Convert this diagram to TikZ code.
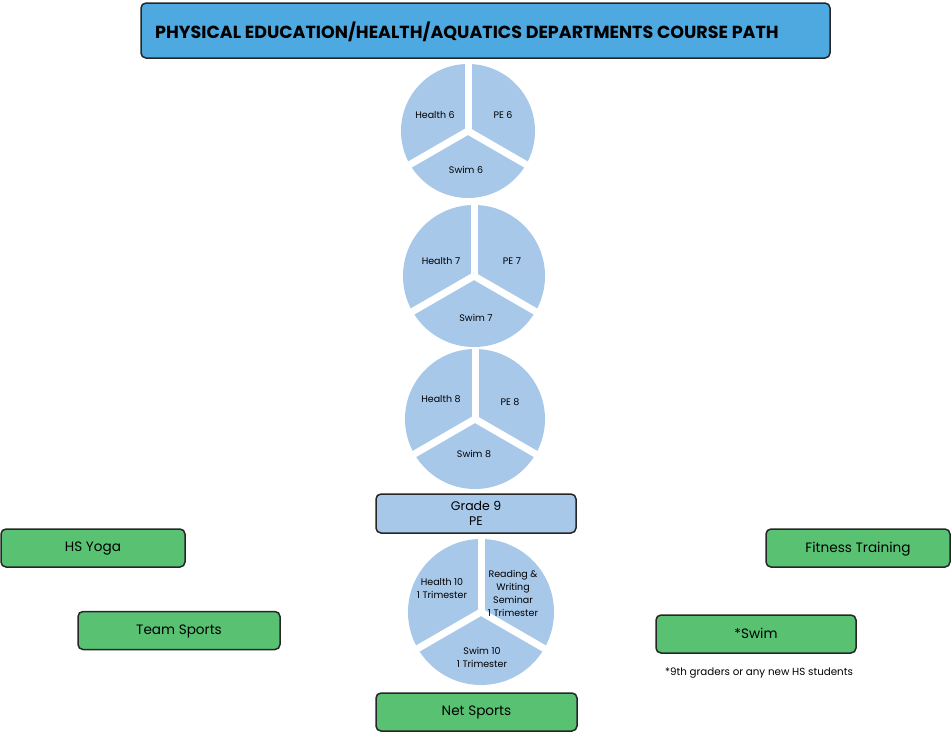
\documentclass[tikz,border=0pt]{standalone}
\usepackage{fontspec}
\setmainfont{Poppins}
\definecolor{titleblue}{HTML}{4EA9E0}
\definecolor{pieblue}{HTML}{A8C8E9}
\definecolor{boxgreen}{HTML}{58C272}
\begin{document}
\begin{tikzpicture}[x=1pt,y=-1pt,
  roundbox/.style={draw=black!85,line width=1.5pt,rounded corners=5pt,inner sep=0pt},
  greenbox/.style={roundbox,fill=boxgreen,minimum width=#1,minimum height=38pt,text depth=2pt,font=\fontsize{13.6}{15}\selectfont},
  greenbox/.default=184pt,
  pie/.style={circle,fill=pieblue,inner sep=0pt,minimum size=#1},
  gap/.style={white,line width=7pt},
  plabel/.style={font=\fontsize{9.5}{13}\selectfont,align=center,inner sep=0pt}
]
\useasboundingbox (0,0) rectangle (951,734);

% title
\node[roundbox,fill=titleblue,minimum width=689pt,minimum height=55pt] (title) at (485.5,30.5) {};
\node[anchor=west,inner sep=0pt,font=\fontsize{17.5}{20}\bfseries\selectfont] (titletext) at (155,32) {PHYSICAL EDUCATION/HEALTH/AQUATICS DEPARTMENTS COURSE PATH};

% pie 1
\node[pie=134pt] (p1) at (468,131) {};
\draw[gap] (p1.center) -- (p1.90);
\draw[gap] (p1.center) -- (p1.210);
\draw[gap] (p1.center) -- (p1.330);
\node[plabel] (h6) at (435,115) {Health 6};
\node[plabel] (pe6) at (503,115) {PE 6};
\node[plabel] (s6) at (466,170) {Swim 6};

% pie 2
\node[pie=142pt] (p2) at (474,276) {};
\draw[gap] (p2.center) -- (p2.90);
\draw[gap] (p2.center) -- (p2.210);
\draw[gap] (p2.center) -- (p2.330);
\node[plabel] (h7) at (441,261) {Health 7};
\node[plabel] (pe7) at (512,261) {PE 7};
\node[plabel] (s7) at (476,318) {Swim 7};

% pie 3
\node[pie=140pt] (p3) at (475,419) {};
\draw[gap] (p3.center) -- (p3.90);
\draw[gap] (p3.center) -- (p3.210);
\draw[gap] (p3.center) -- (p3.330);
\node[plabel] (h8) at (441,399) {Health 8};
\node[plabel] (pe8) at (510,402) {PE 8};
\node[plabel] (s8) at (474,454) {Swim 8};

% grade 9
\node[roundbox,fill=pieblue,minimum width=200pt,minimum height=39pt,align=center,font=\fontsize{12.5}{15}\selectfont] (g9) at (476,513.5) {Grade 9\\PE};

% pie 4
\node[pie=146pt] (p4) at (481,612) {};
\draw[gap] (p4.center) -- (p4.90);
\draw[gap] (p4.center) -- (p4.210);
\draw[gap] (p4.center) -- (p4.330);
\node[plabel] (h10) at (442,589) {Health 10\\1 Trimester};
\node[plabel] (rw) at (513,593) {Reading \&\\Writing\\Seminar\\1 Trimester};
\node[plabel] (s10) at (482,657) {Swim 10\\1 Trimester};

% electives
\node[greenbox] (yoga) at (93,548) {HS Yoga};
\node[greenbox=202pt] (team) at (179,630.5) {Team Sports};
\node[greenbox] (fit) at (858,548) {Fitness Training};
\node[greenbox=200pt] (swim) at (756,634) {*Swim};
\node[greenbox=201pt] (net) at (476.5,712) {Net Sports};
\node[inner sep=0pt,font=\fontsize{10.3}{12}\selectfont] (note) at (759,673.5) {*9th graders or any new HS students};
\end{tikzpicture}
\end{document}
